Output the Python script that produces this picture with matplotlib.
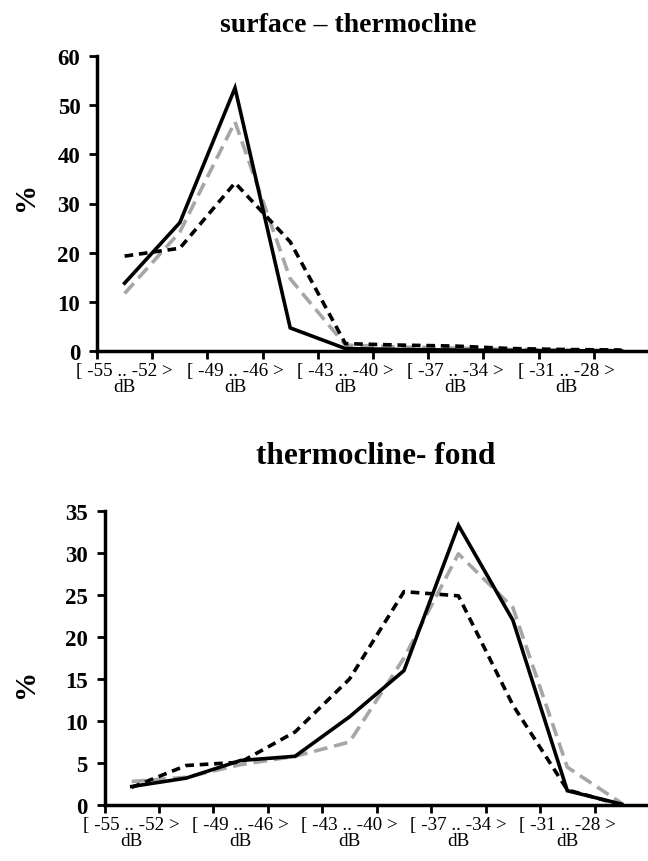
import matplotlib.pyplot as plt
import numpy as np

# classes of 3 dB, labels shown every other one (like Excel did)
cats = ['[ -55 .. -52 >\ndB', '[ -52 .. -49 >\ndB', '[ -49 .. -46 >\ndB',
        '[ -46 .. -43 >\ndB', '[ -43 .. -40 >\ndB', '[ -40 .. -37 >\ndB',
        '[ -37 .. -34 >\ndB', '[ -34 .. -31 >\ndB', '[ -31 .. -28 >\ndB',
        '[ -28 .. -25 >\ndB']

# surface - thermocline
top_solid = [13.8, 26.1, 53.5, 4.7, 0.5, 0.3, 0.2, 0.1, 0.05, 0.0]
top_dash = [19.3, 20.9, 34.2, 22.2, 1.5, 1.2, 1.0, 0.5, 0.3, 0.2]
top_grey = [11.7, 24.2, 46.6, 14.7, 1.2, 0.8, 0.6, 0.3, 0.2, 0.1]

# thermocline - fond
bot_solid = [2.2, 3.2, 5.3, 5.8, 10.5, 16.0, 33.3, 22.0, 1.7, 0.1]
bot_dash = [2.1, 4.7, 5.1, 8.7, 15.0, 25.4, 24.9, 11.9, 1.8, 0.0]
bot_grey = [2.8, 3.3, 4.8, 5.8, 7.5, 17.5, 29.9, 23.5, 4.5, 0.2]

plt.rcParams['font.family'] = ['Liberation Serif', 'DejaVu Serif']

W, H = 648, 862
fig = plt.figure(figsize=(W/100, H/100), dpi=100)


def draw(ax, solid, dash, grey, ymax, ystep):
    x = np.arange(len(cats))
    ax.plot(x, grey, color='#a6a6a6', lw=2.6, dashes=(3.8, 1.9))
    ax.plot(x, dash, color='black', lw=2.6, dashes=(2.4, 1.6))
    ax.plot(x, solid, color='black', lw=2.6, solid_joinstyle='miter')
    ax.set_xlim(-0.5, len(cats) - 0.5)
    ax.set_ylim(0, ymax)
    ax.set_yticks(np.arange(0, ymax + 0.1, ystep))
    for lab in ax.get_yticklabels():
        lab.set_fontweight('bold')
    ax.tick_params(axis='y', direction='out', length=6, width=2, labelsize=16.5, pad=6)
    # ticks between categories, labels at every other category
    ax.set_xticks(np.arange(-0.5, len(cats), 1.0))
    ax.set_xticklabels([])
    ax.tick_params(axis='x', which='major', direction='out', length=6, width=2)
    ax.set_xticks(x[::2], [cats[i] for i in x[::2]], minor=True)
    ax.tick_params(axis='x', which='minor', length=0, labelsize=13.8, pad=8)
    for lab in ax.get_xticklabels(minor=True):
        lab.set_linespacing(0.9)
    for s in ['top', 'right']:
        ax.spines[s].set_visible(False)
    for s in ['left', 'bottom']:
        ax.spines[s].set_linewidth(2.5)
    ax.patch.set_alpha(0)


ax1 = fig.add_axes([97/W, 1 - 352/H, (649 - 97)/W, (352 - 57)/H])
draw(ax1, top_solid, top_dash, top_grey, 60, 10)
ax2 = fig.add_axes([104.5/W, 1 - 806/H, (649 - 104.5)/W, (806 - 512)/H])
draw(ax2, bot_solid, bot_dash, bot_grey, 35, 5)

fig.text(348/W, 1 - 25/H, 'surface \u2013 thermocline', ha='center', va='center',
         fontsize=20, fontweight='bold')
fig.text(376/W, 1 - 457/H, 'thermocline- fond', ha='center', va='center',
         fontsize=22.5, fontweight='bold')
fig.text(25/W, 1 - 196/H, '%', rotation=90, ha='center', va='center',
         fontsize=21, fontweight='bold')
fig.text(25/W, 1 - 683/H, '%', rotation=90, ha='center', va='center',
         fontsize=21, fontweight='bold')

fig.savefig('out.png', dpi=100)
